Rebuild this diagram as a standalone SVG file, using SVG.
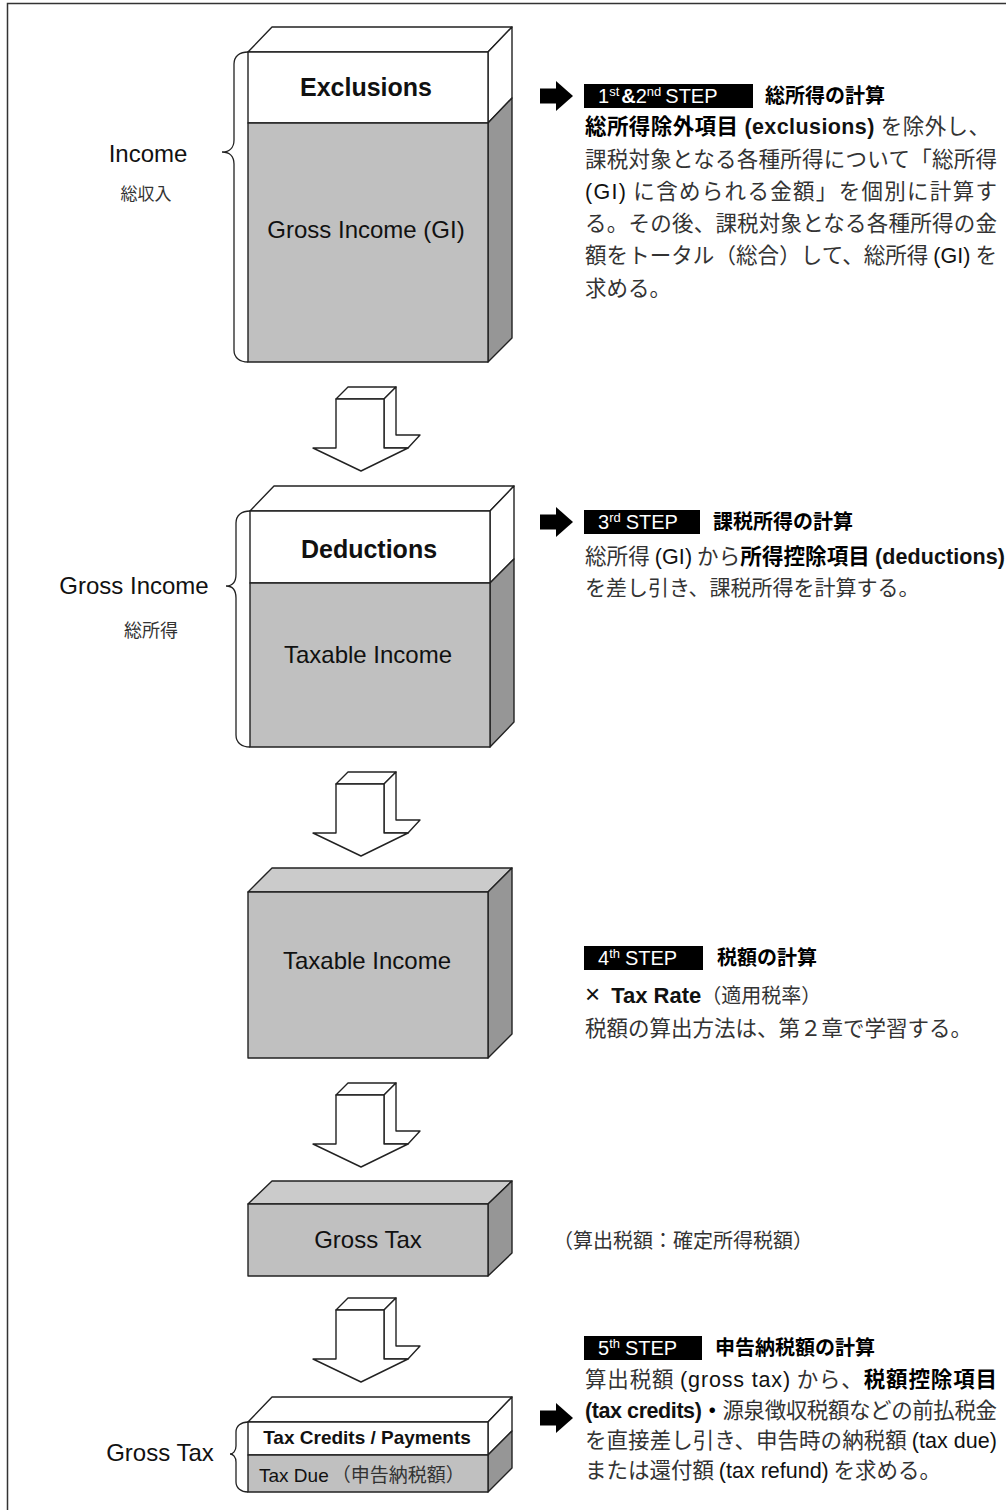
<svg xmlns="http://www.w3.org/2000/svg" width="1006" height="1510" viewBox="0 0 1006 1510">
<style>
.ln{stroke:#222;stroke-width:1.4;stroke-linejoin:round}
.w{fill:#fff}
.g{fill:#c0c0c0}
.gt{fill:#cbcbcb}
.gs{fill:#969696}
.br{fill:none;stroke:#222;stroke-width:1.3}
.en{font-family:"Liberation Sans",Arial,sans-serif;fill:#111}
.bold{font-weight:bold}
.jp{font-family:"Noto Sans CJK JP",sans-serif;fill:#333}
.jpb{font-family:"Noto Sans CJK JP",sans-serif;font-weight:bold;fill:#000}
.hd{font-family:"Liberation Sans",Arial,sans-serif;fill:#fff;font-size:20px}
.sup{font-size:13px}
.mid{text-anchor:middle}
</style>
<defs>
<g id="bigArrow">
<polygon class="ln w" points="336,12 348,0 396,0 384,12"/>
<polygon class="ln w" points="384,12 396,0 396,48 420,48 408,61 384,61"/>
<polygon class="ln w" points="336,12 384,12 384,61 408,61 361,84 313,61 336,61"/>
</g>
<g id="ptr">
<rect x="540" y="-7.5" width="17" height="15" fill="#000"/>
<polygon points="556,-15 573,0 556,15" fill="#000"/>
</g>
</defs>

<path d="M7.5,1510 V3.5 H1006" fill="none" stroke="#333" stroke-width="1.5"/>

<g id="node-income">
<polygon class="ln w" points="248,52 272,27 512,27 488,52"/>
<polygon class="ln w" points="488,52 512,27 512,98 488,123"/>
<polygon class="ln gs" points="488,123 512,98 512,338 488,362"/>
<rect class="ln w" x="248" y="52" width="240" height="71"/>
<rect class="ln g" x="248" y="123" width="240" height="239"/>
<text class="en bold mid" x="366" y="96" font-size="25">Exclusions</text>
<text class="en mid" x="366" y="238" font-size="24">Gross Income (GI)</text>
<path class="br" d="M248,52 C240,52 234,56 234,64 L234,140 C234,148 229,152 222,152 C229,152 234,156 234,164 L234,350 C234,358 240,362 248,362"/>
<text class="en mid" x="148" y="162" font-size="24">Income</text>
<text class="jp mid" x="146" y="200" font-size="17">総収入</text>
</g>

<g id="node-gross-income">
<polygon class="ln w" points="250,511 274,486 514,486 490,511"/>
<polygon class="ln w" points="490,511 514,486 514,559 490,583"/>
<polygon class="ln gs" points="490,583 514,559 514,722 490,747"/>
<rect class="ln w" x="250" y="511" width="240" height="72"/>
<rect class="ln g" x="250" y="583" width="240" height="164"/>
<text class="en bold mid" x="369" y="558" font-size="25">Deductions</text>
<text class="en mid" x="368" y="663" font-size="24">Taxable Income</text>
<path class="br" d="M250,511 C242,511 236,515 236,523 L236,574 C236,582 232,586 226,586 C232,586 236,590 236,598 L236,735 C236,743 242,747 250,747"/>
<text class="en mid" x="134" y="594" font-size="24">Gross Income</text>
<text class="jp mid" x="151" y="637" font-size="18">総所得</text>
</g>

<g id="node-taxable-income">
<polygon class="ln gt" points="248,892 272,868 512,868 488,892"/>
<polygon class="ln gs" points="488,892 512,868 512,1034 488,1058"/>
<rect class="ln g" x="248" y="892" width="240" height="166"/>
<text class="en mid" x="367" y="969" font-size="24">Taxable Income</text>
</g>

<g id="node-gross-tax">
<polygon class="ln gt" points="248,1204 272,1181 512,1181 488,1204"/>
<polygon class="ln gs" points="488,1204 512,1181 512,1253 488,1276"/>
<rect class="ln g" x="248" y="1204" width="240" height="72"/>
<text class="en mid" x="368" y="1248" font-size="24">Gross Tax</text>
</g>

<g id="node-tax-due">
<polygon class="ln w" points="248,1422 272,1397 512,1397 488,1422"/>
<polygon class="ln w" points="488,1422 512,1397 512,1431 488,1455"/>
<polygon class="ln gs" points="488,1455 512,1431 512,1468 488,1492"/>
<rect class="ln w" x="248" y="1422" width="240" height="33"/>
<rect class="ln g" x="248" y="1455" width="240" height="37"/>
<text class="en bold mid" x="367" y="1444" font-size="19">Tax Credits / Payments</text>
<text x="259" y="1482" font-size="19"><tspan class="en">Tax Due</tspan><tspan class="jp" dx="3">（申告納税額）</tspan></text>
<path class="br" d="M248,1422 C241,1422 236,1426 236,1432 L236,1446 C236,1451 233,1454 230,1454 C233,1454 236,1457 236,1462 L236,1482 C236,1488 241,1492 248,1492"/>
<text class="en mid" x="160" y="1461" font-size="24">Gross Tax</text>
</g>

<g id="connectors">
<use href="#bigArrow" y="387"/>
<use href="#bigArrow" y="772"/>
<use href="#bigArrow" y="1083"/>
<use href="#bigArrow" y="1298"/>
<use href="#ptr" y="96"/>
<use href="#ptr" y="522"/>
<use href="#ptr" y="1418"/>
</g>

<g id="step1">
<rect x="584" y="84" width="169" height="24" fill="#000"/>
<text class="hd" x="598" y="103">1<tspan class="sup" dy="-7">st</tspan><tspan font-weight="bold" dy="7" dx="2">&amp;</tspan>2<tspan class="sup" dy="-7">nd</tspan><tspan dy="7" dx="4">STEP</tspan></text>
<text class="jpb" x="765" y="103" font-size="20">総所得の計算</text>
<text x="585" y="134" font-size="21.5" textLength="405" lengthAdjust="spacing"><tspan class="jpb">総所得除外項目</tspan><tspan class="en bold" dx="6">(exclusions)</tspan><tspan class="jp" dx="6">を除外し、</tspan></text>
<text class="jp" x="585" y="167" font-size="21.5" textLength="412" lengthAdjust="spacing">課税対象となる各種所得について「総所得</text>
<text x="585" y="199" font-size="21.5" textLength="412" lengthAdjust="spacing"><tspan class="en">(GI)</tspan><tspan class="jp"> に含められる金額」を個別に計算す</tspan></text>
<text class="jp" x="585" y="231" font-size="21.5" textLength="412" lengthAdjust="spacing">る。その後、課税対象となる各種所得の金</text>
<text x="585" y="263" font-size="21.5" textLength="412" lengthAdjust="spacing"><tspan class="jp">額をトータル（総合）して、総所得 </tspan><tspan class="en">(GI)</tspan><tspan class="jp"> を</tspan></text>
<text class="jp" x="585" y="296" font-size="21.5">求める。</text>
</g>

<g id="step3">
<rect x="584" y="510" width="116" height="24" fill="#000"/>
<text class="hd" x="598" y="529">3<tspan class="sup" dy="-7">rd</tspan><tspan dy="7" dx="5">STEP</tspan></text>
<text class="jpb" x="713" y="529" font-size="20">課税所得の計算</text>
<text x="585" y="564" font-size="21.5" textLength="420" lengthAdjust="spacing"><tspan class="jp">総所得 </tspan><tspan class="en">(GI)</tspan><tspan class="jp"> から</tspan><tspan class="jpb">所得控除項目 </tspan><tspan class="en bold">(deductions)</tspan></text>
<text class="jp" x="585" y="595" font-size="21">を差し引き、課税所得を計算する。</text>
</g>

<g id="step4">
<rect x="584" y="946" width="119" height="24" fill="#000"/>
<text class="hd" x="598" y="965">4<tspan class="sup" dy="-7">th</tspan><tspan dy="7" dx="5">STEP</tspan></text>
<text class="jpb" x="717" y="965" font-size="20">税額の計算</text>
<text x="585" y="1003"><tspan class="en" font-size="26">×</tspan><tspan class="en bold" font-size="22" dx="11">Tax Rate</tspan><tspan class="jp" font-size="20">（適用税率）</tspan></text>
<text class="jp" x="585" y="1036" font-size="21.5">税額の算出方法は、第２章で学習する。</text>
</g>

<g id="gross-tax-note">
<text class="jp" x="553" y="1248" font-size="20">（算出税額：確定所得税額）</text>
</g>

<g id="step5">
<rect x="584" y="1336" width="118" height="24" fill="#000"/>
<text class="hd" x="598" y="1355">5<tspan class="sup" dy="-7">th</tspan><tspan dy="7" dx="5">STEP</tspan></text>
<text class="jpb" x="715" y="1355" font-size="20">申告納税額の計算</text>
<text x="585" y="1387" font-size="21.5" textLength="412" lengthAdjust="spacing"><tspan class="jp">算出税額 </tspan><tspan class="en">(gross tax)</tspan><tspan class="jp"> から、</tspan><tspan class="jpb">税額控除項目</tspan></text>
<text x="585" y="1418" font-size="21.5" textLength="412" lengthAdjust="spacing"><tspan class="en bold">(tax credits)</tspan><tspan class="jpb">・</tspan><tspan class="jp">源泉徴収税額などの前払税金</tspan></text>
<text x="585" y="1448" font-size="21.5" textLength="412" lengthAdjust="spacing"><tspan class="jp">を直接差し引き、申告時の納税額 </tspan><tspan class="en">(tax due)</tspan></text>
<text x="585" y="1478" font-size="21.5"><tspan class="jp">または還付額 </tspan><tspan class="en">(tax refund)</tspan><tspan class="jp"> を求める。</tspan></text>
</g>
</svg>
